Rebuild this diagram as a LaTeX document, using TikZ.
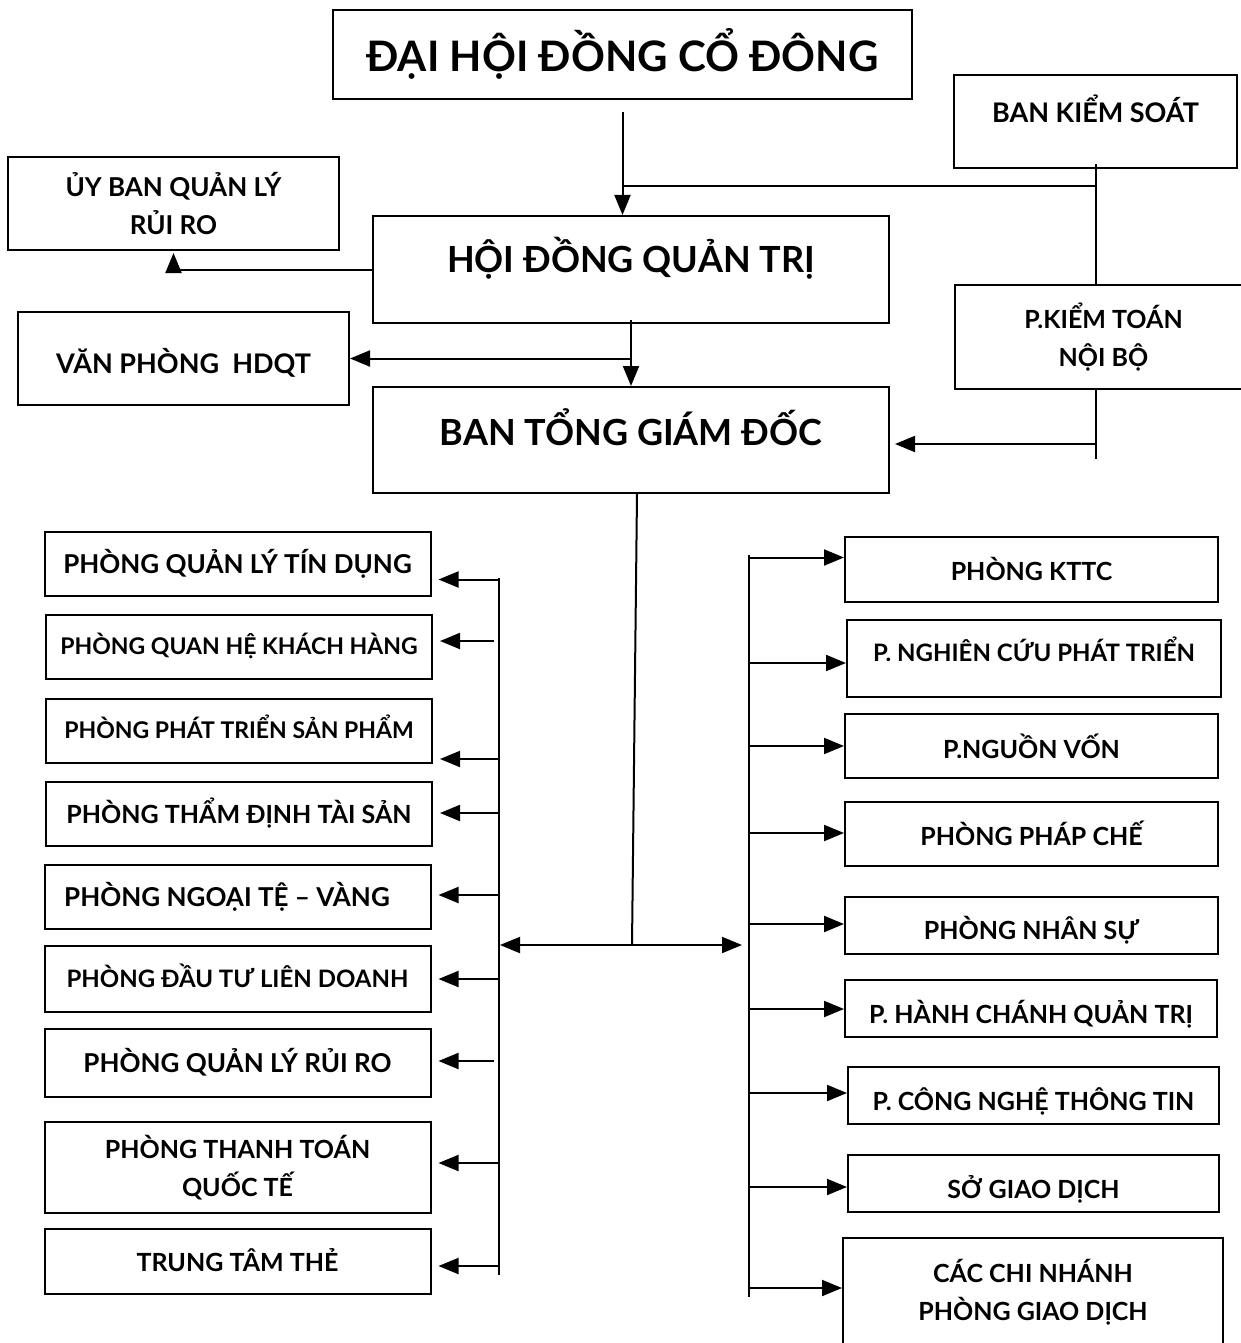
\documentclass[tikz,border=0pt]{standalone}
\usepackage{fontspec}
\setmainfont{Lato}
\usetikzlibrary{arrows.meta}

\begin{document}
\begin{tikzpicture}[x=1pt, y=-1pt,
    box/.style={draw, line width=2pt, inner sep=0pt, align=center, fsz=25, tline={18}{0}},
    fsz/.style={font=\bfseries\fontsize{#1}{38}\selectfont},
    tline/.style 2 args={text height=#1pt, text depth=#2pt},
    link/.style={line width=2pt},
    feed/.style={link, -{Triangle[length=20pt, width=16pt]}},
]
\useasboundingbox (0,0) rectangle (1240,1343);
% Top boxes
\node[box, fsz=42, tline={34}{0}, minimum width=579, minimum height=89] (dhcd) at (622.5,54.5) {ĐẠI HỘI ĐỒNG CỔ ĐÔNG};
\node[box, fsz=27, tline={19.3}{17}, minimum width=283, minimum height=93] (bks) at (1095.5,121.5) {BAN KIỂM SOÁT};
\node[box, fsz=26, text height=, text depth=, minimum width=331, minimum height=93] (ubqlrr) at (173.5,203.5) {ỦY BAN QUẢN LÝ\\RỦI RO};
\node[box, fsz=36, tline={25.8}{19}, minimum width=516, minimum height=107] (hdqt) at (631,269.5) {HỘI ĐỒNG QUẢN TRỊ};
\node[box, text height=, text depth=, minimum width=297, minimum height=104] (pkt) at (1103.5,337) {P.KIỂM TOÁN\\NỘI BỘ};
\node[box, fsz=27, tline={29.3}{0}, minimum width=331, minimum height=93] (vp) at (183.5,358.5) {VĂN PHÒNG\ \ HDQT};
\node[box, fsz=36, tline={25.8}{15}, minimum width=516, minimum height=106] (btgd) at (631,440) {BAN TỔNG GIÁM ĐỐC};
% Left column
\node[box, fsz=26, tline={20}{0}, minimum width=386, minimum height=64] (tindung) at (237.5,563.5) {PHÒNG QUẢN LÝ TÍN DỤNG};
\node[box, fsz=23, tline={16.5}{0}, minimum width=386, minimum height=64] (khachhang) at (239,646.5) {PHÒNG QUAN HỆ KHÁCH HÀNG};
\node[box, fsz=23, tline={16.5}{0}, minimum width=386, minimum height=64] (sanpham) at (239,730.5) {PHÒNG PHÁT TRIỂN SẢN PHẨM};
\node[box, minimum width=386, minimum height=64] (taisan) at (239,814) {PHÒNG THẨM ĐỊNH TÀI SẢN};
\node[box, fsz=26, tline={18.6}{0}, minimum width=386, minimum height=64] (ngoaite) at (237.5,897) {PHÒNG NGOẠI TỆ – VÀNG\hspace*{21pt}};
\node[box, fsz=24, tline={17.2}{0}, minimum width=386, minimum height=66] (dautu) at (237.5,979) {PHÒNG ĐẦU TƯ LIÊN DOANH};
\node[box, fsz=26, tline={18.6}{0}, minimum width=386, minimum height=68] (ruiro) at (237.5,1063) {PHÒNG QUẢN LÝ RỦI RO};
\node[box, text height=, text depth=, minimum width=386, minimum height=91] (thanhtoan) at (237.5,1167.5) {PHÒNG THANH TOÁN\\QUỐC TẾ};
\node[box, tline={20}{0}, minimum width=386, minimum height=65] (the) at (237.5,1261.5) {TRUNG TÂM THẺ};
% Right column
\node[box, tline={21}{0}, minimum width=373, minimum height=65] (kttc) at (1031.5,569.5) {PHÒNG KTTC};
\node[box, fsz=24, tline={17.2}{11}, minimum width=374, minimum height=77] (nghiencuu) at (1034,658.5) {P. NGHIÊN CỨU PHÁT TRIỂN};
\node[box, tline={24}{0}, minimum width=373, minimum height=64] (nguonvon) at (1031.5,746) {P.NGUỒN VỐN};
\node[box, tline={22}{0}, minimum width=373, minimum height=64] (phapche) at (1031.5,834) {PHÒNG PHÁP CHẾ};
\node[box, tline={27}{0}, minimum width=373, minimum height=57] (nhansu) at (1031.5,925.5) {PHÒNG NHÂN SỰ};
\node[box, tline={29}{0}, minimum width=372, minimum height=57] (hanhchanh) at (1031,1008.5) {P. HÀNH CHÁNH QUẢN TRỊ};
\node[box, tline={29}{0}, minimum width=371, minimum height=57] (congnghe) at (1033.5,1095.5) {P. CÔNG NGHỆ THÔNG TIN};
\node[box, tline={29}{0}, minimum width=371, minimum height=57] (sgd) at (1033.5,1183.5) {SỞ GIAO DỊCH};
\node[box, text height=, text depth=, minimum width=380, minimum height=109] (ccn) at (1033,1292.5) {CÁC CHI NHÁNH\\PHÒNG GIAO DỊCH};
% Bus lines
\coordinate (tap) at (622,186);
\coordinate (hub) at (632,945);
\coordinate (lbus-top) at (499,578);
\coordinate (lbus-end) at (499,1275);
\coordinate (rbus-top) at (749,555);
\coordinate (rbus-end) at (749,1297);
% Top connectors
\draw[feed] ([yshift=-12pt]dhcd.south) -- (dhcd.south |- hdqt.north);
\draw[link] (tap) -- (tap -| bks.south);
\draw[link] ([yshift=5pt]bks.south) -- (bks.south |- pkt.north);
\draw[link] (bks.south |- pkt.south) -- ++(0,69);
\path (btgd.east -| bks.south) ++(0,4) coordinate (audit);
\draw[feed, shorten >=5pt] (audit) -- (audit -| btgd.east);
\draw[feed, shorten >=2pt] (hdqt.west) -| (ubqlrr.south);
\draw[feed] ([yshift=4pt]hdqt.south) -- (btgd.north);
\draw[feed] (hdqt.south |- vp.east) -- (vp.east);
% Down to the departments
\draw[link] ([xshift=6pt]btgd.south) -- (hub);
\draw[link, {Triangle[length=20pt, width=16pt]}-{Triangle[length=20pt, width=16pt]}, shorten >=7pt] ([xshift=1pt]lbus-top |- hub) -- (rbus-top |- hub);
\draw[link] (lbus-top) -- (lbus-end);
\draw[link] (rbus-top) -- (rbus-end);
\foreach \unit/\dy/\gap in {tindung/-16/0, khachhang/5.5/5, sanpham/-28.5/0, taisan/1/0, ngoaite/2/0, dautu/0/0, ruiro/2/5, thanhtoan/4.5/0, the/-4.5/0}{
    \path ([yshift=\dy pt]\unit.east) coordinate (\unit-in);
    \draw[feed, shorten <=\gap pt, shorten >=7pt] (lbus-top |- \unit-in) -- (\unit-in);
}
\foreach \unit/\dy in {kttc/12, nghiencuu/-4.5, nguonvon/0, phapche/1, nhansu/1.5, hanhchanh/-0.5, congnghe/2.5, sgd/-3.5, ccn/4.5}{
    \path ([yshift=\dy pt]\unit.west) coordinate (\unit-in);
    \draw[feed] (rbus-top |- \unit-in) -- (\unit-in);
}
\end{tikzpicture}
\end{document}
